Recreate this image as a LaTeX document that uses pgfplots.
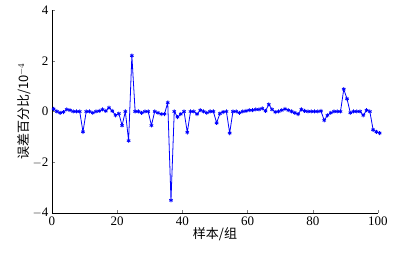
\documentclass[border=0pt]{standalone}
\usepackage{pgfplots}
\pgfplotsset{compat=1.18}
\usepackage{fontspec}
\setmainfont{Liberation Serif}
\newfontfamily\cjk{Noto Sans CJK SC}
\begin{document}
\begin{tikzpicture}
\begin{axis}[
  scale only axis,
  width=326pt, height=203pt,
  xmin=0, xmax=100, ymin=-4, ymax=4,
  axis x line*=bottom, axis y line*=left,
  tick align=inside,
  xtick={0,20,40,60,80,100},
  ytick={-4,-2,0,2,4},
  yticklabels={$-$4,$-$2,0,2,4},
  /pgf/number format/assume math mode=true,
  tick label style={font=\fontsize{13}{13}\selectfont},
  major tick length=3pt,
  xlabel={\cjk 样本/组},
  ylabel={\cjk 误差百分比/10$^{-4}$},
  label style={font=\fontsize{13}{13}\selectfont},
  xlabel style={yshift=5pt},
  ylabel style={yshift=-5pt},
  clip=false,
]
\addplot[blue, line width=0.8pt, mark=asterisk, mark size=2pt] coordinates {
(0.5,0.10) (1.5,0.00) (2.5,-0.05) (3.5,-0.02) (4.5,0.08) (5.5,0.05) (6.5,0.00) (7.5,0.00) (8.5,0.00) (9.5,-0.80)
(10.5,0.00) (11.5,0.00) (12.5,-0.05) (13.5,0.00) (14.5,0.02) (15.5,0.08) (16.5,0.02) (17.5,0.15) (18.5,0.02) (19.5,-0.15)
(20.5,-0.08) (21.5,-0.55) (22.5,0.00) (23.5,-1.15) (24.5,2.20) (25.5,0.00) (26.5,0.00) (27.5,-0.05) (28.5,0.00) (29.5,0.00)
(30.5,-0.55) (31.5,0.00) (32.5,-0.05) (33.5,-0.10) (34.5,-0.10) (35.5,0.35) (36.5,-3.50) (37.5,0.00) (38.5,-0.22) (39.5,-0.10)
(40.5,0.00) (41.5,-0.82) (42.5,0.00) (43.5,0.00) (44.5,-0.10) (45.5,0.05) (46.5,0.00) (47.5,-0.05) (48.5,0.00) (49.5,0.00)
(50.5,-0.45) (51.5,-0.08) (52.5,-0.02) (53.5,0.00) (54.5,-0.85) (55.5,0.00) (56.5,0.00) (57.5,-0.05) (58.5,0.00) (59.5,0.02)
(60.5,0.05) (61.5,0.05) (62.5,0.08) (63.5,0.08) (64.5,0.12) (65.5,0.02) (66.5,0.28) (67.5,0.08) (68.5,-0.02) (69.5,0.00)
(70.5,0.05) (71.5,0.10) (72.5,0.05) (73.5,0.00) (74.5,-0.05) (75.5,-0.10) (76.5,0.08) (77.5,0.02) (78.5,0.00) (79.5,0.00)
(80.5,0.00) (81.5,0.00) (82.5,0.02) (83.5,-0.35) (84.5,-0.15) (85.5,-0.05) (86.5,0.00) (87.5,0.00) (88.5,0.00) (89.5,0.88)
(90.5,0.50) (91.5,-0.05) (92.5,0.00) (93.5,0.00) (94.5,0.00) (95.5,-0.15) (96.5,0.05) (97.5,0.00) (98.5,-0.72) (99.5,-0.80)
(100.5,-0.85)
};
\end{axis}
\path ([xshift=-52pt,yshift=-44pt]current axis.south west) rectangle ([xshift=30pt,yshift=10pt]current axis.north east);
\end{tikzpicture}
\end{document}
